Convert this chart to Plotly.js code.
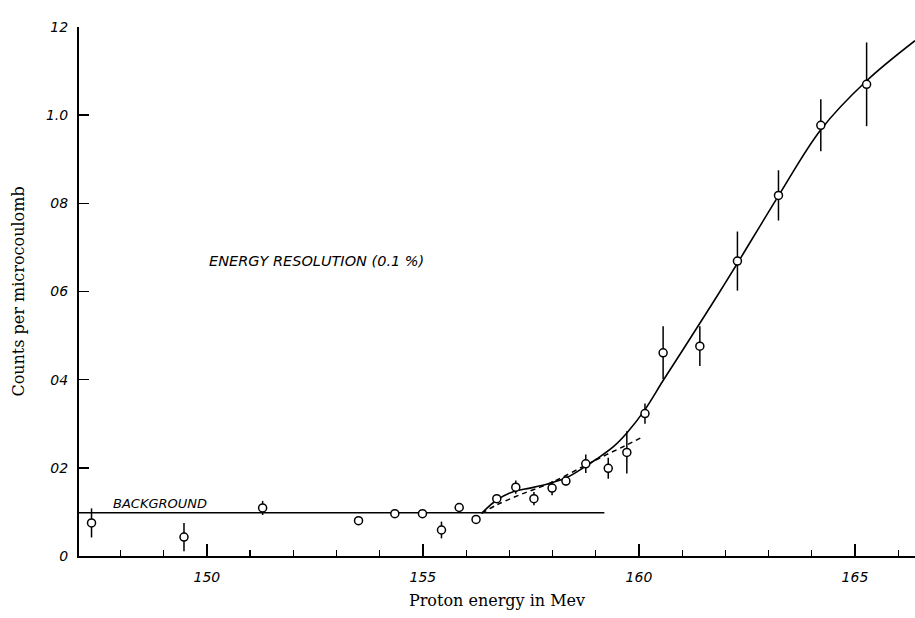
<!DOCTYPE html>
<html><head><meta charset="utf-8">
<script src="https://cdn.plot.ly/plotly-3.0.1.min.js"></script>
<style>html,body{margin:0;padding:0;background:#fff}#c{width:915px;height:618px}</style>
</head><body><div id="c"></div>
<script>
// Measured points (x in units of tick labels, y counts per microcoulomb)
const ptX = [147.33,149.47,151.29,153.51,154.35,154.99,155.43,155.84,156.23,156.71,157.15,157.57,157.99,158.31,158.77,159.29,159.72,160.14,160.56,161.41,162.28,163.23,164.21,165.27];
const ptY = [0.075,0.043,0.109,0.080,0.096,0.096,0.059,0.110,0.083,0.130,0.156,0.130,0.154,0.170,0.209,0.199,0.235,0.323,0.461,0.476,0.669,0.818,0.977,1.070];
const ptErr = [0.033,0.032,0.016,0.006,0.008,0.008,0.019,0.008,0.006,0.010,0.015,0.015,0.016,0.010,0.021,0.024,0.048,0.023,0.060,0.045,0.067,0.057,0.059,0.095];
// Background line
const bgX = [147.04,159.2];
const bgY = [0.098,0.098];
// Solid fitted curve
const fitX = [156.36,156.71,157.09,157.48,157.94,158.33,158.71,159.02,159.41,159.72,160.14,160.56,161.0,161.41,161.85,162.28,163.23,164.21,165.27,166.39];
const fitY = [0.097,0.127,0.146,0.154,0.165,0.178,0.200,0.220,0.248,0.279,0.332,0.398,0.465,0.528,0.596,0.664,0.817,0.967,1.078,1.169];
// Dashed curve
const dashX = [156.36,156.71,157.25,157.94,158.71,159.25,159.72,160.10];
const dashY = [0.097,0.116,0.139,0.165,0.203,0.230,0.252,0.271];
// Ticks
const xTickVals = [150,155,160,165];
const xTickText = ["150","155","160","165"];
const xMinorVals = [148,149,151,152,153,154,156,157,158,159,161,162,163,164,166];
const yTickVals = [0,0.2,0.4,0.6,0.8,1.0,1.2];
const yTickText = ["0","02","04","06","08","1.0","12"];

const sans = "DejaVu Sans, sans-serif";
const serif = "DejaVu Serif, serif";

const traces = [
  {x:bgX, y:bgY, mode:'lines', line:{color:'#000', width:1.5}, hoverinfo:'skip'},
  {x:fitX, y:fitY, mode:'lines', line:{color:'#000', width:1.6, shape:'spline', smoothing:1}, hoverinfo:'skip'},
  {x:dashX, y:dashY, mode:'lines', line:{color:'#000', width:1.5, dash:'5px,4px', shape:'spline'}, hoverinfo:'skip'},
  {x:ptX, y:ptY, mode:'markers',
   error_y:{type:'data', array:ptErr, visible:true, color:'#000', thickness:1.5, width:0},
   marker:{symbol:'circle', size:8, color:'#fff', line:{color:'#000', width:1.5}}}
];

const layout = {
  width:915, height:618,
  margin:{l:79, r:0, t:27, b:62},
  paper_bgcolor:'#fff', plot_bgcolor:'#fff',
  showlegend:false,
  xaxis:{
    range:[147.04,166.39], showgrid:false, zeroline:false,
    showline:true, linecolor:'#000', linewidth:2,
    tickmode:'array', tickvals:xTickVals, ticktext:xTickText,
    ticks:'inside', ticklen:12, tickwidth:1.5, tickcolor:'#000',
    ticklabelstandoff:7,
    tickfont:{family:sans, size:14, color:'#000', style:'italic'},
    minor:{tickmode:'array', tickvals:xMinorVals, ticks:'inside', ticklen:6, tickwidth:1.2, tickcolor:'#000', showgrid:false},
    title:{text:'Proton energy in Mev', font:{family:serif, size:16, color:'#000'}, standoff:11}
  },
  yaxis:{
    range:[0,1.2], showgrid:false, zeroline:false,
    showline:true, linecolor:'#000', linewidth:2,
    tickmode:'array', tickvals:yTickVals, ticktext:yTickText,
    ticks:'inside', ticklen:10, tickwidth:1.5, tickcolor:'#000',
    ticklabelstandoff:6,
    tickfont:{family:sans, size:14, color:'#000', style:'italic'},
    title:{text:'Counts per microcoulomb', font:{family:serif, size:16, color:'#000'}, standoff:17}
  },
  annotations:[
    {x:147.77, y:0.12, xref:'x', yref:'y', xanchor:'left', yanchor:'middle', showarrow:false,
     text:'BACKGROUND', font:{family:sans, size:13, color:'#000', style:'italic'}},
    {x:150.0, y:0.669, xref:'x', yref:'y', xanchor:'left', yanchor:'middle', showarrow:false,
     text:'ENERGY RESOLUTION (0.1 %)', font:{family:sans, size:14.5, color:'#000', style:'italic'}}
  ]
};
Plotly.newPlot('c', traces, layout, {displayModeBar:false, staticPlot:true});
</script></body></html>
